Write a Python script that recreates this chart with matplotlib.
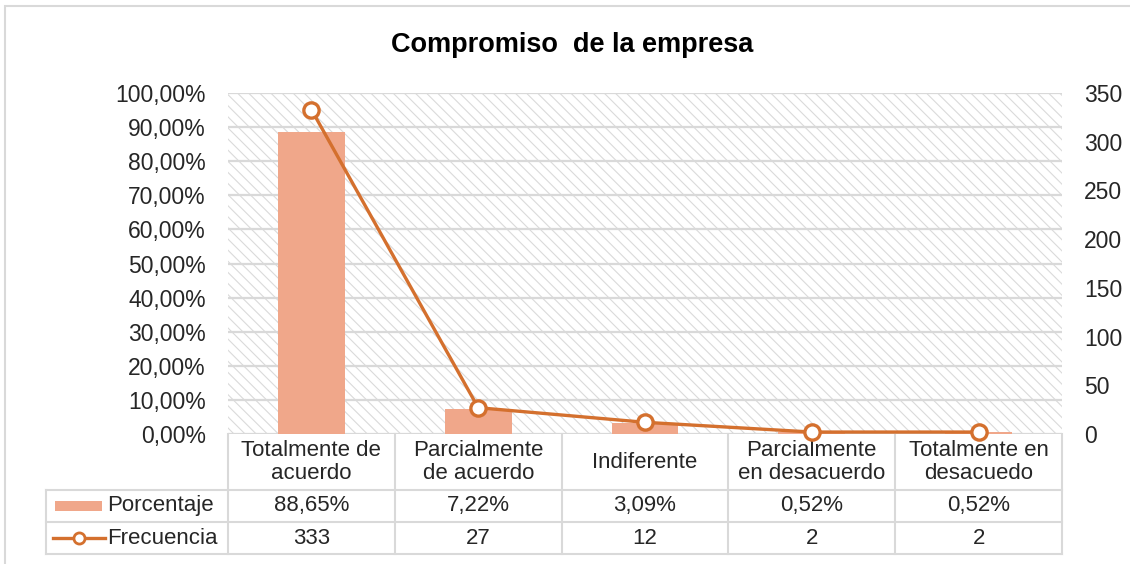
"""Compromiso de la empresa: porcentaje (barras) y frecuencia (línea) con tabla de datos."""

import matplotlib

matplotlib.use("Agg")

import matplotlib.pyplot as plt
from matplotlib.patches import Rectangle
from matplotlib.lines import Line2D
from matplotlib.transforms import blended_transform_factory

categories = [
    "Totalmente de\nacuerdo",
    "Parcialmente\nde acuerdo",
    "Indiferente",
    "Parcialmente\nen desacuerdo",
    "Totalmente en\ndesacuedo",
]
porcentaje = [88.65, 7.22, 3.09, 0.52, 0.52]
frecuencia = [333, 27, 12, 2, 2]
pct_ticks = list(range(0, 101, 10))
freq_ticks = list(range(0, 351, 50))

BAR_COLOR = "#F0A78A"
LINE_COLOR = "#D4702E"
GRID_COLOR = "#D9D9D9"
TEXT_COLOR = "#262626"
FONT = "Liberation Sans"
FS = 16
TICK_FS = 16.5

plt.rcParams["font.family"] = [FONT, "DejaVu Sans"]
plt.rcParams["hatch.linewidth"] = 0.8

W, H = 1130, 564
fig = plt.figure(figsize=(W / 100, H / 100), dpi=100)

# outer chart border
fig.patches.append(Rectangle((5 / W, -0.01), 1.02, 1 - 6 / H + 0.01, transform=fig.transFigure,
                             facecolor="none", edgecolor=GRID_COLOR, linewidth=1.5))

left, right, top, bottom = 228, 1062, 93, 434
ax = fig.add_axes([left / W, 1 - bottom / H, (right - left) / W, (bottom - top) / H])
ax2 = ax.twinx()

# hatched plot area
ax.add_patch(Rectangle((0, 0), 1, 1, transform=ax.transAxes, facecolor="white",
                       edgecolor="#DADADA", linewidth=0, hatch="\\\\\\", zorder=0))
ax.set_facecolor("white")

x = list(range(len(categories)))
ax.bar(x, porcentaje, width=0.4, color=BAR_COLOR, zorder=3)
ax.set_xlim(-0.5, len(categories) - 0.5)
ax.set_ylim(0, 100)
ax.set_yticks(pct_ticks)
ax.set_yticklabels([f"{t:.2f}%".replace(".", ",") for t in pct_ticks])
for t in pct_ticks:
    ax.axhline(t, color=GRID_COLOR, linewidth=1.6, zorder=1)
ax.set_xticks([])

ax2.plot(x, frecuencia, color=LINE_COLOR, linewidth=2.4, marker="o", markersize=11,
         markerfacecolor="white", markeredgecolor=LINE_COLOR, markeredgewidth=2.4,
         zorder=5, clip_on=False)
ax2.set_ylim(0, 350)
ax2.set_yticks(freq_ticks)
ax2.set_yticklabels([str(t) for t in freq_ticks])

for a in (ax, ax2):
    for s in a.spines.values():
        s.set_visible(False)
    a.tick_params(length=0, labelsize=TICK_FS, colors=TEXT_COLOR, pad=16)

fig.text(572 / W, 1 - 45 / H, "Compromiso  de la empresa", ha="center", va="center",
         fontsize=19.5, fontweight="bold", color="black")

# data table under the plot
ph = bottom - top
row_y = [0, -(490 - bottom) / ph, -(522 - bottom) / ph, -(554 - bottom) / ph]
legend_x = -(left - 46) / (right - left)
tr = blended_transform_factory(ax.transData, ax.transAxes)

def hline(x0, x1, y, transform):
    ax.add_line(Line2D([x0, x1], [y, y], transform=transform, color=GRID_COLOR,
                       linewidth=1.5, clip_on=False))

def vline(xv, y0, y1, transform):
    ax.add_line(Line2D([xv, xv], [y0, y1], transform=transform, color=GRID_COLOR,
                       linewidth=1.5, clip_on=False))

for yv in row_y[1:]:
    hline(legend_x, 1, yv, ax.transAxes)
for i in range(len(categories) + 1):
    vline(i - 0.5, row_y[0], row_y[3], tr)
vline(legend_x, row_y[1], row_y[3], ax.transAxes)

for i, cat in enumerate(categories):
    ax.text(i, (row_y[0] + row_y[1]) / 2, cat, transform=tr, ha="center", va="center",
            fontsize=FS, color=TEXT_COLOR, linespacing=1.1)
    ax.text(i, (row_y[1] + row_y[2]) / 2, f"{porcentaje[i]:.2f}%".replace(".", ","),
            transform=tr, ha="center", va="center", fontsize=FS, color=TEXT_COLOR)
    ax.text(i, (row_y[2] + row_y[3]) / 2, str(frecuencia[i]), transform=tr,
            ha="center", va="center", fontsize=FS, color=TEXT_COLOR)

# legend keys in the table
pw = right - left
y_p = (row_y[1] + row_y[2]) / 2
y_f = (row_y[2] + row_y[3]) / 2
ax.add_patch(Rectangle((-(left - 55) / pw, y_p - 5 / ph), 47 / pw, 10 / ph, transform=ax.transAxes,
                       facecolor=BAR_COLOR, edgecolor="none", clip_on=False))
ax.add_line(Line2D([-(left - 53) / pw, -(left - 105) / pw], [y_f, y_f], transform=ax.transAxes,
                   color=LINE_COLOR, linewidth=2.4, clip_on=False))
ax.add_line(Line2D([-(left - 79) / pw], [y_f], transform=ax.transAxes, marker="o", markersize=8,
                   markerfacecolor="white", markeredgecolor=LINE_COLOR, markeredgewidth=2,
                   clip_on=False))
ax.text(-(left - 107) / pw, y_p, "Porcentaje", transform=ax.transAxes, ha="left", va="center",
        fontsize=FS, color=TEXT_COLOR)
ax.text(-(left - 107) / pw, y_f, "Frecuencia", transform=ax.transAxes, ha="left", va="center",
        fontsize=FS, color=TEXT_COLOR)

fig.savefig("out.png", dpi=100)
